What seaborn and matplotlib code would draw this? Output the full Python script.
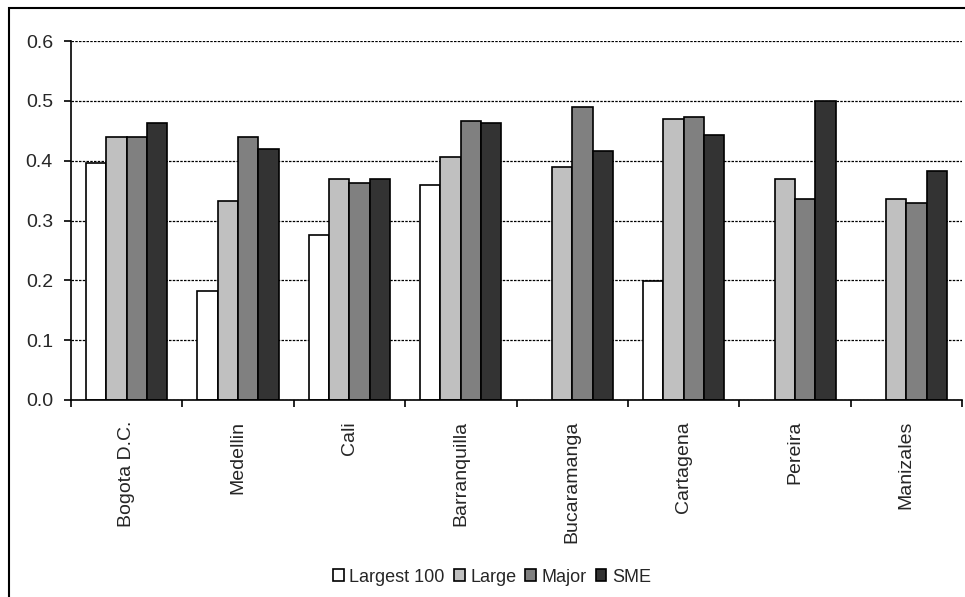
import numpy as np
import pandas as pd
import matplotlib
matplotlib.use("Agg")
import matplotlib.pyplot as plt
import seaborn as sns
from matplotlib.patches import Rectangle
from matplotlib.ticker import FixedLocator, FormatStrFormatter

# values
cities = ["Bogota D.C.", "Medellin", "Cali", "Barranquilla",
          "Bucaramanga", "Cartagena", "Pereira", "Manizales"]
largest_100 = [0.396, 0.183, 0.275, 0.359, np.nan, 0.199, np.nan, np.nan]
large = [0.439, 0.332, 0.369, 0.406, 0.390, 0.469, 0.370, 0.336]
major = [0.439, 0.439, 0.363, 0.466, 0.490, 0.473, 0.336, 0.330]
sme = [0.463, 0.420, 0.369, 0.463, 0.416, 0.443, 0.500, 0.382]
groups = ["Largest 100", "Large", "Major", "SME"]
colors = ["#FFFFFF", "#C0C0C0", "#808080", "#333333"]

df = pd.DataFrame({
    "city": cities * 4,
    "group": [g for g in groups for _ in cities],
    "value": largest_100 + large + major + sme,
})

sns.set_style("white")
plt.rcParams["font.family"] = ["Liberation Sans", "DejaVu Sans"]

fig = plt.figure(figsize=(9.65, 5.97), dpi=100)
ax = fig.add_axes([71 / 965, 1 - 400 / 597, (962 - 71) / 965, (400 - 41) / 597])

sns.barplot(data=df, x="city", y="value", hue="group", order=cities,
            hue_order=groups, palette=colors, width=0.73, errorbar=None,
            edgecolor="black", linewidth=1.2, saturation=1, ax=ax)

ax.set_ylim(0, 0.6)
ax.set_xlim(-0.5, len(cities) - 0.5)
ax.set_yticks(np.arange(0, 0.61, 0.1))
ax.yaxis.set_major_formatter(FormatStrFormatter("%.1f"))
ax.yaxis.grid(True, color="black", linestyle=(0, (2, 1)), linewidth=0.9)
ax.set_axisbelow(True)
ax.set_xlabel("")
ax.set_ylabel("")

# category labels rotated, ticks between categories
ax.set_xticks(range(len(cities)))
ax.set_xticklabels(cities, rotation=90, fontsize=14)
ax.tick_params(axis="x", which="major", length=0, pad=15)
ax.xaxis.set_minor_locator(FixedLocator(np.arange(-0.5, len(cities), 1)))
ax.tick_params(axis="x", which="minor", length=5, width=1.2, color="black",
               direction="out", bottom=True)
ax.tick_params(axis="y", length=5, width=1.2, color="black", direction="out",
               left=True, labelsize=14, pad=8)

for side in ["top", "right"]:
    ax.spines[side].set_visible(False)
for side in ["left", "bottom"]:
    ax.spines[side].set_color("black")
    ax.spines[side].set_linewidth(1.2)

ax.legend(loc="center", bbox_to_anchor=(492 / 965, 1 - 577 / 597),
          bbox_transform=fig.transFigure, ncol=4, frameon=False, fontsize=13,
          handlelength=0.6, handleheight=0.6, handletextpad=0.3,
          columnspacing=0.5, borderaxespad=0)

# chart area border
fig.patches.append(Rectangle((9 / 965, -0.05), 1.0, 1 - 8 / 597 + 0.05,
                             transform=fig.transFigure, fill=False,
                             edgecolor="black", linewidth=1.5))

fig.savefig("out.png", dpi=100)
